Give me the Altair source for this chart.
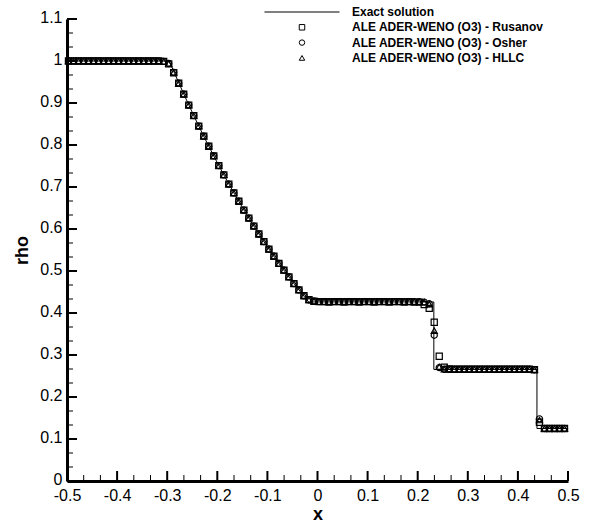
import altair as alt
import pandas as pd

# ---------------- data ----------------
x_cells = [
    -0.497, -0.487, -0.477, -0.467, -0.457, -0.447, -0.437, -0.427, -0.417, -0.407,
    -0.397, -0.387, -0.377, -0.367, -0.357, -0.347, -0.337, -0.327, -0.317, -0.307,
    -0.297, -0.287, -0.277, -0.267, -0.257, -0.247, -0.237, -0.227, -0.217, -0.207,
    -0.197, -0.187, -0.177, -0.167, -0.157, -0.147, -0.137, -0.127, -0.117, -0.107,
    -0.097, -0.087, -0.077, -0.067, -0.057, -0.047, -0.037, -0.027, -0.017, -0.007,
    0.003, 0.013, 0.023, 0.033, 0.043, 0.053, 0.063, 0.073, 0.083, 0.093,
    0.103, 0.113, 0.123, 0.133, 0.143, 0.153, 0.163, 0.173, 0.183, 0.193,
    0.203, 0.213, 0.223, 0.233, 0.243, 0.253, 0.263, 0.273, 0.283, 0.293,
    0.303, 0.313, 0.323, 0.333, 0.343, 0.353, 0.363, 0.373, 0.383, 0.393,
    0.403, 0.413, 0.423, 0.433, 0.443, 0.453, 0.463, 0.473, 0.483, 0.493,
]

rho_rusanov = [
    1.000, 1.000, 1.000, 1.000, 1.000, 1.000, 1.000, 1.000, 1.000, 1.000,
    1.000, 1.000, 1.000, 1.000, 1.000, 1.000, 1.000, 1.000, 1.000, 0.999,
    0.993, 0.972, 0.947, 0.921, 0.895, 0.870, 0.845, 0.821, 0.797, 0.774,
    0.751, 0.729, 0.707, 0.686, 0.666, 0.645, 0.626, 0.607, 0.588, 0.570,
    0.552, 0.535, 0.518, 0.502, 0.486, 0.470, 0.455, 0.441, 0.432, 0.428,
    0.427, 0.427, 0.426, 0.427, 0.427, 0.426, 0.427, 0.427, 0.426, 0.427,
    0.427, 0.426, 0.427, 0.427, 0.426, 0.427, 0.427, 0.426, 0.427, 0.426,
    0.426, 0.420, 0.411, 0.378, 0.297, 0.271, 0.267, 0.266, 0.266, 0.266,
    0.266, 0.266, 0.266, 0.266, 0.266, 0.266, 0.266, 0.266, 0.266, 0.266,
    0.266, 0.266, 0.266, 0.265, 0.140, 0.125, 0.125, 0.125, 0.125, 0.125,
]

rho_osher = [
    1.000, 1.000, 1.000, 1.000, 1.000, 1.000, 1.000, 1.000, 1.000, 1.000,
    1.000, 1.000, 1.000, 1.000, 1.000, 1.000, 1.000, 1.000, 1.000, 0.999,
    0.994, 0.973, 0.947, 0.921, 0.895, 0.870, 0.845, 0.821, 0.797, 0.774,
    0.751, 0.729, 0.707, 0.686, 0.666, 0.645, 0.626, 0.607, 0.588, 0.570,
    0.552, 0.535, 0.518, 0.502, 0.486, 0.470, 0.455, 0.441, 0.431, 0.428,
    0.427, 0.427, 0.427, 0.427, 0.427, 0.427, 0.427, 0.427, 0.427, 0.427,
    0.427, 0.427, 0.427, 0.427, 0.427, 0.427, 0.427, 0.427, 0.427, 0.427,
    0.427, 0.426, 0.422, 0.347, 0.270, 0.266, 0.266, 0.266, 0.266, 0.266,
    0.266, 0.266, 0.266, 0.266, 0.266, 0.266, 0.266, 0.266, 0.266, 0.266,
    0.266, 0.266, 0.266, 0.265, 0.148, 0.125, 0.125, 0.125, 0.125, 0.125,
]

rho_hllc = [
    1.000, 1.000, 1.000, 1.000, 1.000, 1.000, 1.000, 1.000, 1.000, 1.000,
    1.000, 1.000, 1.000, 1.000, 1.000, 1.000, 1.000, 1.000, 1.000, 0.999,
    0.994, 0.973, 0.947, 0.921, 0.895, 0.870, 0.845, 0.821, 0.797, 0.774,
    0.751, 0.729, 0.707, 0.686, 0.666, 0.645, 0.626, 0.607, 0.588, 0.570,
    0.552, 0.535, 0.518, 0.502, 0.486, 0.470, 0.455, 0.441, 0.431, 0.428,
    0.427, 0.427, 0.427, 0.427, 0.427, 0.427, 0.427, 0.427, 0.427, 0.427,
    0.427, 0.427, 0.427, 0.427, 0.427, 0.427, 0.427, 0.427, 0.427, 0.427,
    0.427, 0.426, 0.421, 0.358, 0.272, 0.266, 0.266, 0.266, 0.266, 0.266,
    0.266, 0.266, 0.266, 0.266, 0.266, 0.266, 0.266, 0.266, 0.266, 0.266,
    0.266, 0.266, 0.266, 0.265, 0.145, 0.125, 0.125, 0.125, 0.125, 0.125,
]

exact_x = [-0.5, -0.2958, -0.285, -0.265, -0.245, -0.225, -0.205, -0.185, -0.165,
           -0.145, -0.125, -0.105, -0.085, -0.065, -0.045, -0.025, -0.0176,
           0.2322, 0.2322, 0.438, 0.438, 0.5]
exact_rho = [1.0, 1.0, 0.9699, 0.9162, 0.8649, 0.8158, 0.7691, 0.7245, 0.6820,
             0.6415, 0.6029, 0.5663, 0.5314, 0.4983, 0.4669, 0.4370, 0.4263,
             0.4263, 0.2656, 0.2656, 0.125, 0.125]

x_major = [-0.5, -0.4, -0.3, -0.2, -0.1, 0.0, 0.1, 0.2, 0.3, 0.4, 0.5]
y_major = [0.0, 0.1, 0.2, 0.3, 0.4, 0.5, 0.6, 0.7, 0.8, 0.9, 1.0, 1.1]

labels = ["Exact solution",
          "ALE ADER-WENO (O3) - Rusanov",
          "ALE ADER-WENO (O3) - Osher",
          "ALE ADER-WENO (O3) - HLLC"]
shapes = ["M-13.7,0L13.7,0", "square", "circle", "triangle-up"]

# ---------------- tables ----------------
pts = pd.concat([
    pd.DataFrame({"x": x_cells, "rho": r, "scheme": name})
    for r, name in [(rho_rusanov, labels[1]), (rho_osher, labels[2]), (rho_hllc, labels[3])]
], ignore_index=True)
exact_df = pd.DataFrame({"x": exact_x, "rho": exact_rho, "k": list(range(len(exact_x)))})

def minors(major):
    out = []
    for a, b in zip(major[:-1], major[1:]):
        out += [a + (b - a) / 3, a + 2 * (b - a) / 3]
    return out

xt_major = pd.DataFrame({"x": x_major})
xt_minor = pd.DataFrame({"x": minors(x_major)})
yt_major = pd.DataFrame({"rho": y_major})
yt_minor = pd.DataFrame({"rho": minors(y_major)})

# ---------------- layout / style ----------------
W, H = 501, 462
FONT = "Liberation Sans"

xscale = alt.Scale(domain=[-0.5, 0.5], nice=False, zero=False)
yscale = alt.Scale(domain=[0, 1.1], nice=False, zero=False)

common_axis = dict(ticks=False, tickSize=0, grid=False, domainWidth=3, domainColor="black",
                   labelFont=FONT, labelFontSize=16, labelColor="black",
                   labelFlush=False, labelOverlap=False,
                   labelExpr="toString(round(datum.value*10)/10)",
                   titleFont=FONT, titleFontSize=18, titleFontWeight="bold", titleColor="black")
xaxis = alt.Axis(values=x_major, title="x", labelPadding=6, titlePadding=2, **common_axis)
yaxis = alt.Axis(values=y_major, title="rho", labelPadding=5, labelOffset=-2, titlePadding=8,
                 **common_axis)

X = alt.X("x:Q", scale=xscale, axis=xaxis)
Y = alt.Y("rho:Q", scale=yscale, axis=yaxis)

legend = alt.Legend(title=None, orient="none", legendX=229, legendY=-13, direction="vertical",
                    labelFont=FONT, labelFontSize=12, labelFontWeight="bold", labelColor="black",
                    labelLimit=400, labelOffset=44, symbolSize=30, symbolStrokeWidth=1,
                    symbolStrokeColor="black", symbolFillColor="transparent",
                    rowPadding=3.3, padding=0)

xtick_major = alt.Chart(xt_major).mark_rule(color="black", strokeWidth=2).encode(
    x=X, y=alt.value(H), y2=alt.value(H - 10))
xtick_minor = alt.Chart(xt_minor).mark_rule(color="black", strokeWidth=1).encode(
    x=X, y=alt.value(H), y2=alt.value(H - 6))
ytick_major = alt.Chart(yt_major).mark_rule(color="black", strokeWidth=2).encode(
    y=Y, x=alt.value(0), x2=alt.value(10))
ytick_minor = alt.Chart(yt_minor).mark_rule(color="black", strokeWidth=1).encode(
    y=Y, x=alt.value(0), x2=alt.value(6))

points = alt.Chart(pts).mark_point(filled=False, size=38, strokeWidth=1.2, color="black", opacity=1).encode(
    x=X, y=Y,
    shape=alt.Shape("scheme:N", scale=alt.Scale(domain=labels, range=shapes), legend=legend),
)

line = alt.Chart(exact_df).mark_line(color="black", strokeWidth=1).encode(
    x=X, y=Y, order="k:Q")

chart = alt.layer(xtick_major, xtick_minor, ytick_major, ytick_minor, points, line).properties(
    width=W, height=H,
    autosize=alt.AutoSizeParams(type="none"),
    padding={"left": 67, "top": 19, "right": 44, "bottom": 44},
    background="white",
).configure_view(strokeWidth=0)

chart.save("out.html", embed_options={"renderer": "svg", "actions": False})
